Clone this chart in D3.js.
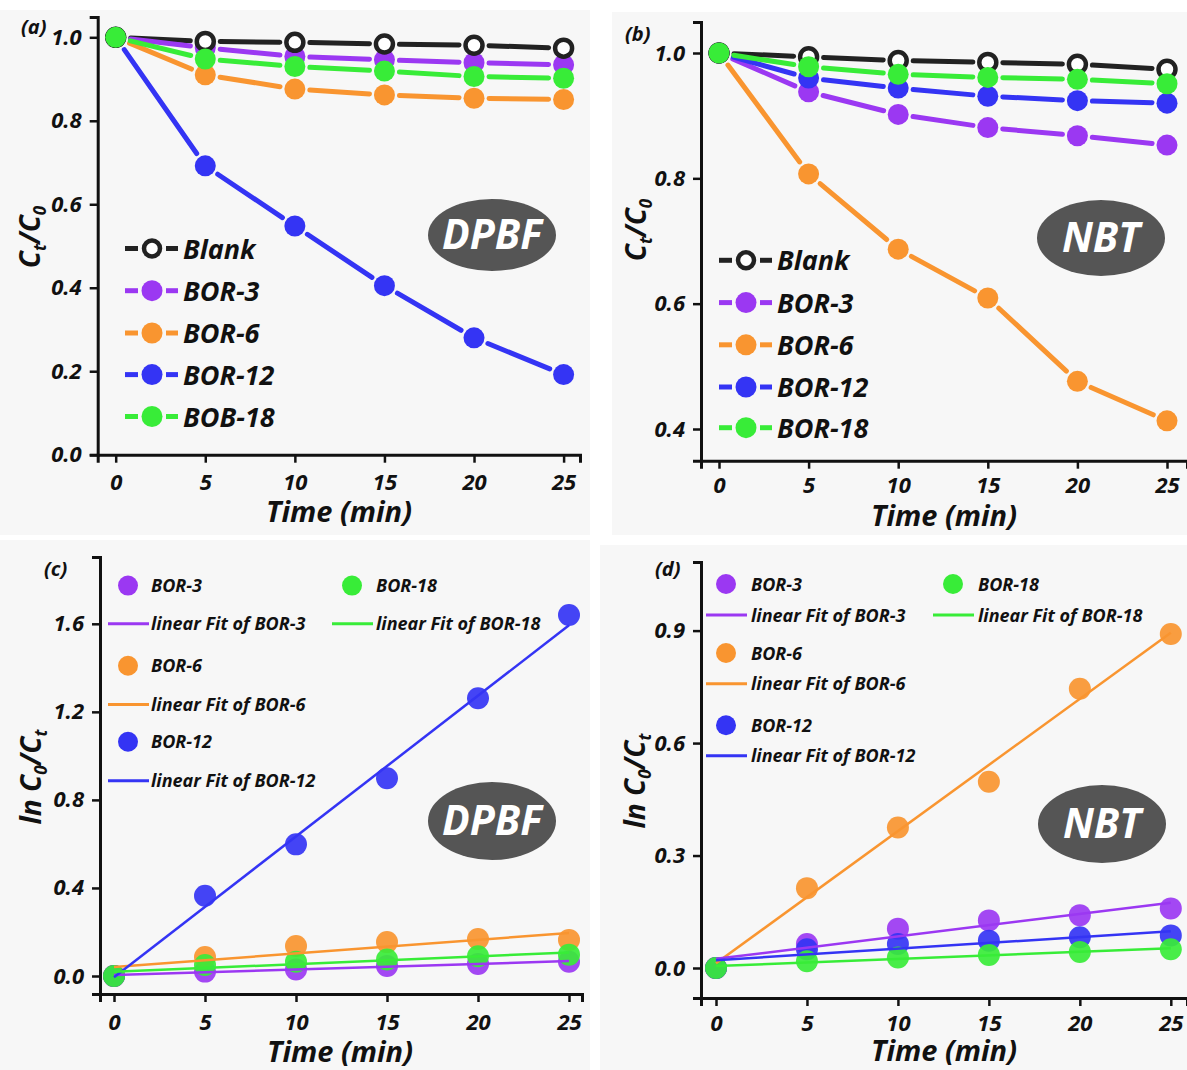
<!DOCTYPE html>
<html>
<head>
<meta charset="utf-8">
<script src="https://cdn.jsdelivr.net/npm/d3@7"></script>
<style>
  body { margin: 0; background: #fff; }
  svg text { font-family: "Open Sans", sans-serif; font-weight: 700; font-style: italic; fill: #111; }
</style>
</head>
<body>
<svg width="1187" height="1070"></svg>
<script>
// ---- data ----
var timeMin = [0, 5, 10, 15, 20, 25];

// (a) DPBF, Ct/C0
var dpbfBlank = [1.0, 0.99, 0.988, 0.984, 0.981, 0.974];
var dpbfBor3  = [1.0, 0.975, 0.954, 0.946, 0.939, 0.934];
var dpbfBor6  = [1.0, 0.91, 0.876, 0.862, 0.854, 0.851];
var dpbfBor12 = [1.0, 0.692, 0.548, 0.405, 0.28, 0.192];
var dpbfBor18 = [1.0, 0.948, 0.93, 0.919, 0.906, 0.902];

// (b) NBT, Ct/C0
var nbtBlank = [1.0, 0.994, 0.988, 0.985, 0.982, 0.974];
var nbtBor3  = [1.0, 0.938, 0.902, 0.881, 0.868, 0.853];
var nbtBor6  = [1.0, 0.807, 0.687, 0.609, 0.476, 0.413];
var nbtBor12 = [1.0, 0.96, 0.944, 0.931, 0.924, 0.92];
var nbtBor18 = [1.0, 0.978, 0.966, 0.961, 0.958, 0.951];

// (c) DPBF, ln C0/Ct
var dpbfLnBor3  = [0, 0.02, 0.03, 0.045, 0.055, 0.065];
var dpbfLnBor6  = [0, 0.086, 0.136, 0.154, 0.168, 0.164];
var dpbfLnBor12 = [0, 0.365, 0.598, 0.898, 1.262, 1.64];
var dpbfLnBor18 = [0, 0.05, 0.065, 0.075, 0.09, 0.097];

// (d) NBT, ln C0/Ct
var nbtLnBor3  = [0, 0.064, 0.105, 0.127, 0.141, 0.159];
var nbtLnBor6  = [0, 0.213, 0.375, 0.497, 0.745, 0.891];
var nbtLnBor12 = [0, 0.05, 0.064, 0.073, 0.082, 0.087];
var nbtLnBor18 = [0, 0.018, 0.028, 0.035, 0.043, 0.05];

var xTicks = [0, 5, 10, 15, 20, 25];
var yTicksA = [0, 0.2, 0.4, 0.6, 0.8, 1.0];
var yTicksB = [0.4, 0.6, 0.8, 1.0];
var yTicksC = [0, 0.4, 0.8, 1.2, 1.6];
var yTicksD = [0, 0.3, 0.6, 0.9];

var legendA = ["Blank", "BOR-3", "BOR-6", "BOR-12", "BOB-18"];
var legendB = ["Blank", "BOR-3", "BOR-6", "BOR-12", "BOR-18"];

var colors = {
  blank: "#222222",
  bor3: "#9b38f2",
  bor6: "#f99530",
  bor12: "#3434f4",
  bor18: "#38ec38"
};

var svg = d3.select("svg");

// faint panel backgrounds
[[0, 10, 590, 525], [612, 12, 575, 523], [0, 540, 590, 530], [600, 545, 587, 525]].forEach(function(r) {
  svg.append("rect").attr("x", r[0]).attr("y", r[1]).attr("width", r[2]).attr("height", r[3]).attr("fill", "#f7f7f7");
});

function makePanel(p) {
  var x = d3.scaleLinear().domain([0, 25]).range([p.x0, p.x25]);
  x.domain([x.invert(p.left), x.invert(p.right)]).range([p.left, p.right]);
  var y = d3.scaleLinear().domain([p.yv0, p.yv1]).range([p.yp0, p.yp1]);
  y.domain([y.invert(p.bottom), y.invert(p.top)]).range([p.bottom, p.top]);

  var g = svg.append("g");

  var xa = g.append("g")
      .attr("transform", "translate(0," + p.bottom + ")")
      .call(d3.axisBottom(x).tickValues(xTicks).tickSizeOuter(0).tickSize(8).tickPadding(p.xPad));
  var ya = g.append("g")
      .attr("transform", "translate(" + p.left + ",0)")
      .call(d3.axisLeft(y).tickValues(p.yTicks).tickFormat(d3.format(".1f")).tickSizeOuter(0).tickSize(8).tickPadding(8));

  [xa, ya].forEach(function(a) {
    a.select(".domain").attr("stroke", "#111").attr("stroke-width", 3);
    a.selectAll(".tick line").attr("stroke", "#111").attr("stroke-width", 2.5);
    a.selectAll(".tick text").attr("font-size", 22).attr("fill", "#111")
      .style("font-family", "'Open Sans', sans-serif").style("font-weight", 700).style("font-style", "italic");
  });

  // panel letter
  g.append("text").attr("x", p.letterX).attr("y", p.letterY).attr("font-size", 20).text(p.letter);

  // x title
  g.append("text").attr("x", p.xtX).attr("y", p.xtY).attr("text-anchor", "middle").attr("font-size", 29).text("Time (min)");

  // y title
  var yt = g.append("text").attr("transform", "translate(" + p.ytX + "," + p.ytY + ") rotate(-90)")
      .attr("text-anchor", "middle").attr("font-size", 28);
  p.yTitle.forEach(function(part) {
    var t = yt.append("tspan").text(part.t);
    if (part.sub) t.attr("font-size", 17).attr("dy", 6);
    else if (part.after) t.attr("dy", -6);
  });

  // badge
  g.append("ellipse").attr("cx", p.badge[0]).attr("cy", p.badge[1]).attr("rx", p.badge[2]).attr("ry", p.badge[3]).attr("fill", "#555");
  g.append("text").attr("x", p.badge[0]).attr("y", p.badge[1] + 14).attr("text-anchor", "middle")
    .attr("font-size", 41).style("fill", "#fff").text(p.badgeText);

  return { g: g, x: x, y: y };
}

// connected series with gaps around markers
function drawDecay(pn, series, gap) {
  var lines = pn.g.append("g");
  var marks = pn.g.append("g");
  series.forEach(function(s) {
    var pts = timeMin.map(function(t, i) { return [pn.x(t), pn.y(s.v[i])]; });
    for (var i = 0; i < pts.length - 1; i++) {
      var a = pts[i], b = pts[i + 1];
      var dx = b[0] - a[0], dy = b[1] - a[1], L = Math.sqrt(dx * dx + dy * dy);
      if (L < 2 * gap) continue;
      var ux = dx / L, uy = dy / L;
      lines.append("line")
        .attr("x1", a[0] + ux * gap).attr("y1", a[1] + uy * gap)
        .attr("x2", b[0] - ux * gap).attr("y2", b[1] - uy * gap)
        .attr("stroke", s.c).attr("stroke-width", 5).attr("stroke-linecap", "round");
    }
  });
  series.slice().sort(function(a, b) { return a.z - b.z; }).forEach(function(s) {
    marks.selectAll(null).data(s.v).enter().append("circle")
      .attr("cx", function(d, i) { return pn.x(timeMin[i]); })
      .attr("cy", function(d) { return pn.y(d); })
      .attr("r", s.open ? 8.5 : 10.5)
      .attr("fill", s.open ? "#fff" : s.c)
      .attr("stroke", s.open ? s.c : "none")
      .attr("stroke-width", s.open ? 4.5 : 0);
  });
}

function drawDecayLegend(g, labels, cols, rows, lx) {
  labels.forEach(function(lab, i) {
    var yy = rows[i];
    g.append("line").attr("x1", lx).attr("x2", lx + 13).attr("y1", yy).attr("y2", yy).attr("stroke", cols[i]).attr("stroke-width", 5);
    g.append("line").attr("x1", lx + 41).attr("x2", lx + 53).attr("y1", yy).attr("y2", yy).attr("stroke", cols[i]).attr("stroke-width", 5);
    var open = i === 0;
    g.append("circle").attr("cx", lx + 27).attr("cy", yy).attr("r", open ? 8 : 10.5)
      .attr("fill", open ? "#fff" : cols[i]).attr("stroke", open ? cols[i] : "none").attr("stroke-width", open ? 4.5 : 0);
    g.append("text").attr("x", lx + 58).attr("y", yy + 10).attr("font-size", 27).text(lab);
  });
}

function fit(vals) {
  var mx = d3.mean(timeMin), my = d3.mean(vals);
  var sxy = d3.sum(timeMin, function(t, i) { return (t - mx) * (vals[i] - my); });
  var sxx = d3.sum(timeMin, function(t) { return (t - mx) * (t - mx); });
  var k = sxy / sxx;
  return { k: k, b: my - k * mx };
}

function drawKinetics(pn, series) {
  var marks = pn.g.append("g");
  series.forEach(function(s) {
    marks.selectAll(null).data(s.v).enter().append("circle")
      .attr("cx", function(d, i) { return pn.x(timeMin[i]); })
      .attr("cy", function(d) { return pn.y(d); })
      .attr("r", 11).attr("fill", s.c).attr("fill-opacity", 0.92);
  });
  var lineGen = d3.line().x(function(d) { return pn.x(d[0]); }).y(function(d) { return pn.y(d[1]); });
  series.forEach(function(s) {
    var f = fit(s.v);
    pn.g.append("path").datum([[0, f.b], [25, f.b + 25 * f.k]])
      .attr("d", lineGen).attr("fill", "none").attr("stroke", s.c).attr("stroke-width", 2.5);
  });
}

function drawKineticsLegend(g, items) {
  items.forEach(function(it) {
    if (it.type === "dot") {
      g.append("circle").attr("cx", it.x).attr("cy", it.y).attr("r", 10).attr("fill", it.c);
    } else {
      g.append("line").attr("x1", it.x).attr("x2", it.x + 41).attr("y1", it.y).attr("y2", it.y).attr("stroke", it.c).attr("stroke-width", 3);
    }
    g.append("text").attr("x", it.tx).attr("y", it.y + 6.5).attr("font-size", 18).text(it.label);
  });
}

var ctTitle = [{ t: "C" }, { t: "t", sub: true }, { t: "/C", after: true }, { t: "0", sub: true }];
var lnTitle = [{ t: "ln C" }, { t: "0", sub: true }, { t: "/C", after: true }, { t: "t", sub: true }];

// ---- (a) ----
var pa = makePanel({
  left: 97.7, right: 580, x0: 115.7, x25: 563.6,
  bottom: 454.7, top: 17, yv0: 0, yp0: 454.7, yv1: 1.0, yp1: 37.3,
  yTicks: yTicksA, xPad: 12,
  letter: "(a)", letterX: 21, letterY: 34,
  xtX: 339, xtY: 522, ytX: 40, ytY: 237, yTitle: ctTitle,
  badge: [492, 235, 64, 36], badgeText: "DPBF"
});
drawDecay(pa, [
  { v: dpbfBlank, c: colors.blank, open: true, z: 4 },
  { v: dpbfBor3, c: colors.bor3, z: 1 },
  { v: dpbfBor6, c: colors.bor6, z: 2 },
  { v: dpbfBor12, c: colors.bor12, z: 3 },
  { v: dpbfBor18, c: colors.bor18, z: 5 }
], 15);
drawDecayLegend(pa.g, legendA, [colors.blank, colors.bor3, colors.bor6, colors.bor12, colors.bor18],
  [248.5, 290.7, 333, 374.6, 416.5], 125);

// ---- (b) ----
var pb = makePanel({
  left: 701, right: 1187, x0: 719, x25: 1167,
  bottom: 460.7, top: 22, yv0: 0.4, yp0: 429, yv1: 1.0, yp1: 53,
  yTicks: yTicksB, xPad: 9,
  letter: "(b)", letterX: 625, letterY: 41,
  xtX: 944, xtY: 526, ytX: 646, ytY: 230, yTitle: ctTitle,
  badge: [1101, 238, 64, 38], badgeText: "NBT"
});
drawDecay(pb, [
  { v: nbtBlank, c: colors.blank, open: true, z: 4 },
  { v: nbtBor3, c: colors.bor3, z: 2 },
  { v: nbtBor6, c: colors.bor6, z: 1 },
  { v: nbtBor12, c: colors.bor12, z: 3 },
  { v: nbtBor18, c: colors.bor18, z: 5 }
], 15);
drawDecayLegend(pb.g, legendB, [colors.blank, colors.bor3, colors.bor6, colors.bor12, colors.bor18],
  [260.3, 302.6, 344.8, 387, 427.7], 719);

// ---- (c) ----
var pc = makePanel({
  left: 100, right: 582, x0: 114, x25: 569,
  bottom: 994, top: 557, yv0: 0, yp0: 976, yv1: 1.6, yp1: 623.8,
  yTicks: yTicksC, xPad: 12,
  letter: "(c)", letterX: 44, letterY: 576,
  xtX: 340, xtY: 1062, ytX: 41, ytY: 777, yTitle: lnTitle,
  badge: [492, 821, 64, 39], badgeText: "DPBF"
});
drawKinetics(pc, [
  { v: dpbfLnBor3, c: colors.bor3 },
  { v: dpbfLnBor6, c: colors.bor6 },
  { v: dpbfLnBor12, c: colors.bor12 },
  { v: dpbfLnBor18, c: colors.bor18 }
]);
drawKineticsLegend(pc.g, [
  { type: "dot", x: 128, y: 585.6, tx: 151, c: colors.bor3, label: "BOR-3" },
  { type: "line", x: 108, y: 623.8, tx: 151, c: colors.bor3, label: "linear Fit of BOR-3" },
  { type: "dot", x: 352, y: 585.6, tx: 376, c: colors.bor18, label: "BOR-18" },
  { type: "line", x: 332, y: 623.8, tx: 376, c: colors.bor18, label: "linear Fit of BOR-18" },
  { type: "dot", x: 128, y: 665.8, tx: 151, c: colors.bor6, label: "BOR-6" },
  { type: "line", x: 108, y: 704.6, tx: 151, c: colors.bor6, label: "linear Fit of BOR-6" },
  { type: "dot", x: 128, y: 741.8, tx: 151, c: colors.bor12, label: "BOR-12" },
  { type: "line", x: 108, y: 780.7, tx: 151, c: colors.bor12, label: "linear Fit of BOR-12" }
]);

// ---- (d) ----
var pd = makePanel({
  left: 701, right: 1187, x0: 716, x25: 1170.8,
  bottom: 998, top: 562, yv0: 0, yp0: 968, yv1: 0.9, yp1: 630.6,
  yTicks: yTicksD, xPad: 9,
  letter: "(d)", letterX: 655, letterY: 576,
  xtX: 944, xtY: 1061, ytX: 645, ytY: 781, yTitle: lnTitle,
  badge: [1102, 824, 64, 39], badgeText: "NBT"
});
drawKinetics(pd, [
  { v: nbtLnBor6, c: colors.bor6 },
  { v: nbtLnBor3, c: colors.bor3 },
  { v: nbtLnBor12, c: colors.bor12 },
  { v: nbtLnBor18, c: colors.bor18 }
]);
drawKineticsLegend(pd.g, [
  { type: "dot", x: 726, y: 584, tx: 751, c: colors.bor3, label: "BOR-3" },
  { type: "line", x: 706, y: 615, tx: 751, c: colors.bor3, label: "linear Fit of BOR-3" },
  { type: "dot", x: 953, y: 584, tx: 978, c: colors.bor18, label: "BOR-18" },
  { type: "line", x: 933, y: 615, tx: 978, c: colors.bor18, label: "linear Fit of BOR-18" },
  { type: "dot", x: 726, y: 653, tx: 751, c: colors.bor6, label: "BOR-6" },
  { type: "line", x: 706, y: 683.7, tx: 751, c: colors.bor6, label: "linear Fit of BOR-6" },
  { type: "dot", x: 726, y: 725.3, tx: 751, c: colors.bor12, label: "BOR-12" },
  { type: "line", x: 706, y: 755.7, tx: 751, c: colors.bor12, label: "linear Fit of BOR-12" }
]);
</script>
</body>
</html>
